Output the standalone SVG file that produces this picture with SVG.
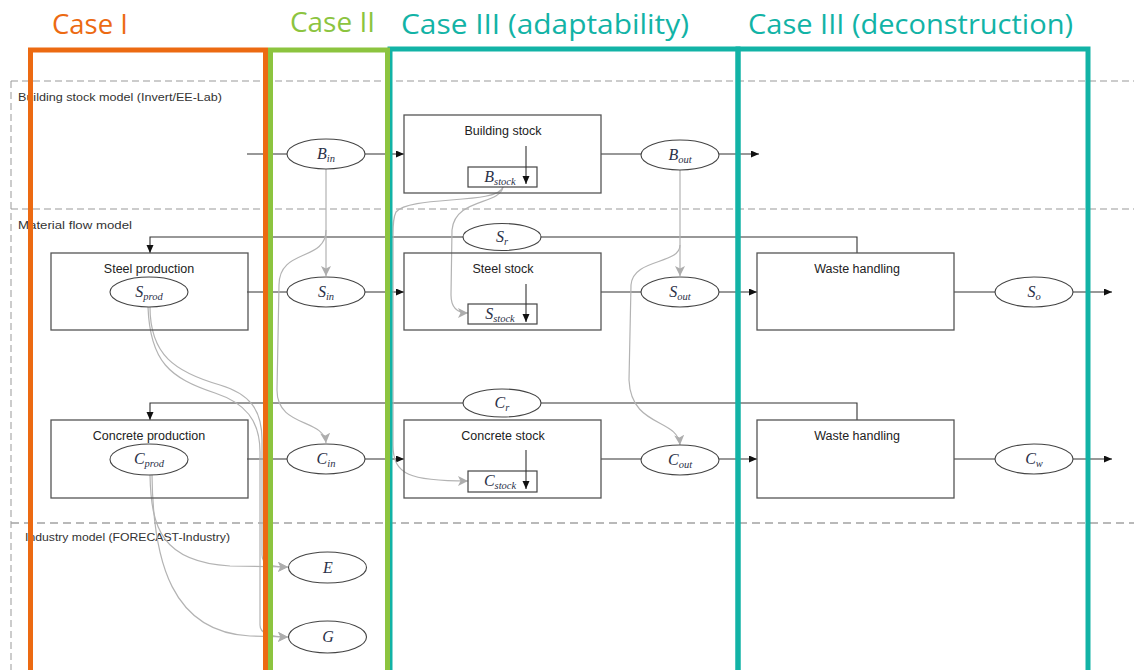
<svg xmlns="http://www.w3.org/2000/svg" width="1134" height="670" viewBox="0 0 1134 670">
  <defs>
    <marker id="arrowBlack" markerUnits="userSpaceOnUse" markerWidth="9" markerHeight="8" refX="8" refY="3.5" orient="auto">
      <path d="M0,0 L8,3.5 L0,7 z" fill="#111"/>
    </marker>
    <marker id="arrowGrey" markerUnits="userSpaceOnUse" markerWidth="11" markerHeight="11" refX="10" refY="5" orient="auto">
      <path d="M0,0 L10,5 L0,10 L2.5,5 z" fill="#adadad"/>
    </marker>
    <style>
      .zone { fill: none; stroke: #999; stroke-width: 1; stroke-dasharray: 7 4; }
      .zoneHeavy { fill: none; stroke: #a3a3a3; stroke-width: 1.6; stroke-dasharray: 8 5; }
      .zoneLabel { font-family: "Liberation Sans", Arial, sans-serif; font-size: 11.5px; fill: #333; }
      .flowArrow { fill: none; stroke: #333; stroke-width: 1.1; marker-end: url(#arrowBlack); }
      .link { fill: none; stroke: #b3b3b3; stroke-width: 1.2; marker-end: url(#arrowGrey); }
      .box { fill: none; stroke: #555; stroke-width: 1.3; }
      .inner { fill: #fff; stroke: #444; stroke-width: 1.2; }
      .oval { fill: #fff; stroke: #444; stroke-width: 1.1; }
      .title { font-family: "Liberation Sans", Arial, sans-serif; font-size: 12.5px; fill: #222; text-anchor: middle; }
      .sym { font-family: "Liberation Serif", "Times New Roman", serif; font-style: italic; font-size: 16px; fill: #2b3148; text-anchor: middle; }
      .sub { font-size: 10.5px; }
      .case { font-family: "Open Sans", "Liberation Sans", sans-serif; font-size: 27px; }
      .frame { fill: none; stroke-width: 5; }
    </style>
  </defs>

  <rect width="1134" height="670" fill="#fff"/>

  <!-- model zones -->
  <g id="zones">
    <path class="zone" d="M11,81 H1134 M11,81 V670 M11,209 H1134"/>
    <path class="zoneHeavy" d="M11,523 H1134"/>
    <text class="zoneLabel" x="18" y="101" textLength="204" lengthAdjust="spacingAndGlyphs">Building stock model (Invert/EE-Lab)</text>
    <text class="zoneLabel" x="18" y="229" textLength="114" lengthAdjust="spacingAndGlyphs">Material flow model</text>
    <text class="zoneLabel" x="25" y="541" textLength="205" lengthAdjust="spacingAndGlyphs">Industry model (FORECAST-Industry)</text>
  </g>

  <!-- connectors -->
  <g id="connectors">
    <!-- main flows -->
    <path class="flowArrow" d="M247,154 H404"/>
    <path class="flowArrow" d="M601,154 H759"/>
    <path class="flowArrow" d="M247,292 H404"/>
    <path class="flowArrow" d="M601,292 H757"/>
    <path class="flowArrow" d="M954,292 H1112"/>
    <path class="flowArrow" d="M247,459 H404"/>
    <path class="flowArrow" d="M601,459 H757"/>
    <path class="flowArrow" d="M954,459 H1112"/>
    <!-- recycling loops -->
    <path class="flowArrow" d="M857,253 V237 H150 V253"/>
    <path class="flowArrow" d="M857,420 V403 H150 V420"/>

    <!-- coupling links -->
    <path class="link" d="M326,169 V276"/>
    <path class="link" d="M680,170 V276"/>
    <path class="link" d="M326,230 C326,262 279,248 279,285 L277,390 C277,428 324,418 326,443"/>
    <path class="link" d="M680,245 C680,265 633,258 631,285 L629,380 C631,428 678,418 680,445"/>
    <path class="link" d="M503,187 C500,205 455,198 452,230 L451,295 C451,308 458,313 468,313"/>
    <path class="link" d="M503,187 C498,205 410,195 396,212 C393,218 393,225 393,235 L393,445 C393,475 410,481 468,481"/>
    <path class="link" d="M150,307 C150,355 175,372 220,385 C250,394 262,410 262,440 L262,555 C262,564 270,567 288,567"/>
    <path class="link" d="M148,307 C150,362 170,378 215,393 C245,403 260,420 260,452 L260,625 C260,634 270,637 288,637"/>
    <path class="link" d="M150,475 C151,528 162,562 230,566 L288,567"/>
    <path class="link" d="M152,475 C153,562 172,632 250,636 L288,637"/>
  </g>

  <!-- building stock row -->
  <g id="node-bin">
    <ellipse class="oval" cx="326" cy="154" rx="39" ry="15"/>
    <text class="sym" x="326" y="159">B<tspan class="sub" dy="3">in</tspan></text>
  </g>
  <g id="node-building-stock">
    <rect class="box" x="404" y="115" width="197" height="78"/>
    <text class="title" x="503" y="135">Building stock</text>
    <rect class="inner" x="468" y="167" width="69" height="20"/>
    <text class="sym" x="500" y="182">B<tspan class="sub" dy="3">stock</tspan></text>
    <path class="flowArrow" d="M526,146 V184"/>
  </g>
  <g id="node-bout">
    <ellipse class="oval" cx="680" cy="155" rx="39" ry="15"/>
    <text class="sym" x="680" y="160">B<tspan class="sub" dy="3">out</tspan></text>
  </g>

  <!-- steel row -->
  <g id="node-steel-production">
    <rect class="box" x="51" y="253" width="197" height="77"/>
    <text class="title" x="149" y="273">Steel production</text>
    <ellipse class="oval" cx="149" cy="292" rx="39" ry="15"/>
    <text class="sym" x="149" y="297">S<tspan class="sub" dy="3">prod</tspan></text>
  </g>
  <g id="node-sin">
    <ellipse class="oval" cx="326" cy="292" rx="39" ry="15"/>
    <text class="sym" x="326" y="297">S<tspan class="sub" dy="3">in</tspan></text>
  </g>
  <g id="node-sr">
    <ellipse class="oval" cx="502" cy="237" rx="39" ry="13.5"/>
    <text class="sym" x="502" y="242">S<tspan class="sub" dy="3">r</tspan></text>
  </g>
  <g id="node-steel-stock">
    <rect class="box" x="404" y="253" width="197" height="77"/>
    <text class="title" x="503" y="273">Steel stock</text>
    <rect class="inner" x="468" y="304" width="69" height="20"/>
    <text class="sym" x="500" y="319">S<tspan class="sub" dy="3">stock</tspan></text>
    <path class="flowArrow" d="M526,284 V322"/>
  </g>
  <g id="node-sout">
    <ellipse class="oval" cx="680" cy="292" rx="39" ry="15"/>
    <text class="sym" x="680" y="297">S<tspan class="sub" dy="3">out</tspan></text>
  </g>
  <g id="node-steel-waste">
    <rect class="box" x="757" y="253" width="197" height="77"/>
    <text class="title" x="857" y="273">Waste handling</text>
  </g>
  <g id="node-so">
    <ellipse class="oval" cx="1034" cy="292" rx="39" ry="15"/>
    <text class="sym" x="1034" y="297">S<tspan class="sub" dy="3">o</tspan></text>
  </g>

  <!-- concrete row -->
  <g id="node-concrete-production">
    <rect class="box" x="51" y="420" width="197" height="78"/>
    <text class="title" x="149" y="440">Concrete production</text>
    <ellipse class="oval" cx="149" cy="459.5" rx="39" ry="15.5"/>
    <text class="sym" x="149" y="464">C<tspan class="sub" dy="3">prod</tspan></text>
  </g>
  <g id="node-cin">
    <ellipse class="oval" cx="326" cy="459" rx="39" ry="15"/>
    <text class="sym" x="326" y="464">C<tspan class="sub" dy="3">in</tspan></text>
  </g>
  <g id="node-cr">
    <ellipse class="oval" cx="502" cy="403" rx="39" ry="14"/>
    <text class="sym" x="502" y="408">C<tspan class="sub" dy="3">r</tspan></text>
  </g>
  <g id="node-concrete-stock">
    <rect class="box" x="404" y="420" width="197" height="78"/>
    <text class="title" x="503" y="440">Concrete stock</text>
    <rect class="inner" x="468" y="471" width="69" height="21"/>
    <text class="sym" x="500" y="486">C<tspan class="sub" dy="3">stock</tspan></text>
    <path class="flowArrow" d="M526,450 V489"/>
  </g>
  <g id="node-cout">
    <ellipse class="oval" cx="680" cy="460" rx="39" ry="15"/>
    <text class="sym" x="680" y="465">C<tspan class="sub" dy="3">out</tspan></text>
  </g>
  <g id="node-concrete-waste">
    <rect class="box" x="757" y="420" width="197" height="78"/>
    <text class="title" x="857" y="440">Waste handling</text>
  </g>
  <g id="node-cw">
    <ellipse class="oval" cx="1034" cy="459" rx="39" ry="15"/>
    <text class="sym" x="1034" y="464">C<tspan class="sub" dy="3">w</tspan></text>
  </g>

  <!-- industry row -->
  <g id="node-e">
    <ellipse class="oval" cx="327.5" cy="567.5" rx="39" ry="15.5"/>
    <text class="sym" x="328" y="573">E</text>
  </g>
  <g id="node-g">
    <ellipse class="oval" cx="327.5" cy="637" rx="39" ry="16"/>
    <text class="sym" x="328" y="642">G</text>
  </g>

  <!-- scenario frames -->
  <g id="cases">
    <rect class="frame" x="390" y="49" width="348" height="640" stroke="#12b3a6"/>
    <rect class="frame" x="738" y="49" width="350" height="640" stroke="#12b3a6"/>
    <rect class="frame" x="270.5" y="50" width="117" height="640" stroke="#8cc43f"/>
    <rect class="frame" x="30.5" y="50" width="235" height="640" stroke="#ec6a12"/>
    <text class="case" x="52" y="34" fill="#ec6a12" textLength="76" lengthAdjust="spacingAndGlyphs">Case I</text>
    <text class="case" x="290" y="32" fill="#8cc43f" textLength="85" lengthAdjust="spacingAndGlyphs">Case II</text>
    <text class="case" x="401" y="34" fill="#12b3a6" textLength="288" lengthAdjust="spacingAndGlyphs">Case III (adaptability)</text>
    <text class="case" x="748" y="34" fill="#12b3a6" textLength="325" lengthAdjust="spacingAndGlyphs">Case III (deconstruction)</text>
  </g>
</svg>
